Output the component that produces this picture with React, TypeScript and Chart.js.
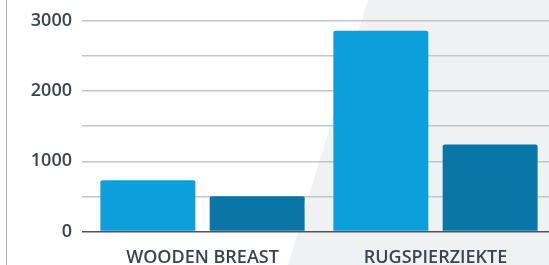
import React, { useEffect, useRef } from "react";
import { Chart, registerables } from "chart.js";

Chart.register(...registerables);

const categories = ["WOODEN BREAST", "RUGSPIERZIEKTE"];
const seriesLight = [730, 2860];
const seriesDark = [500, 1240];
const yMin = 0;
const yMax = 3000;
const yStep = 500;
const labeledTicks = [0, 1000, 2000, 3000];

export default function App() {
  const ref = useRef<HTMLCanvasElement | null>(null);

  useEffect(() => {
    document.body.style.margin = "0";
    const canvas = ref.current;
    if (!canvas) return;
    const chart = new Chart(canvas, {
      type: "bar",
      data: {
        labels: categories,
        datasets: [
          {
            data: seriesLight,
            backgroundColor: "#0c9fdb",
            borderRadius: 2,
            borderSkipped: "bottom",
            categoryPercentage: 0.938,
            barPercentage: 0.869,
          },
          {
            data: seriesDark,
            backgroundColor: "#0877a8",
            borderRadius: 2,
            borderSkipped: "bottom",
            categoryPercentage: 0.938,
            barPercentage: 0.869,
          },
        ],
      },
      options: {
        animation: false,
        responsive: false,
        maintainAspectRatio: false,
        layout: { padding: { top: 21, left: 0, right: 0, bottom: 0 } },
        plugins: {
          legend: { display: false },
          tooltip: { enabled: false },
        },
        scales: {
          x: {
            grid: { display: false },
            border: { display: false },
            ticks: {
              color: "#3a4550",
              padding: 8,
              font: { family: "'Open Sans'", size: 18, weight: 600 },
            },
          },
          y: {
            min: yMin,
            max: yMax,
            border: { display: false },
            afterFit: (s: any) => {
              s.width = 86;
            },
            grid: {
              tickLength: 4,
              lineWidth: 1.5,
              color: (ctx: any) =>
                ctx.tick && ctx.tick.value === 0 ? "#4b5560" : "#c3c6c9",
            },
            ticks: {
              stepSize: yStep,
              padding: 10,
              color: "#3a4550",
              font: { family: "'Open Sans'", size: 18, weight: 600 },
              callback: (v: any) =>
                labeledTicks.includes(Number(v)) ? String(v) : "",
            },
          },
        },
      },
    });
    return () => chart.destroy();
  }, []);

  return (
    <div
      style={{
        position: "fixed",
        left: 0,
        top: 0,
        width: 549,
        height: 265,
        overflow: "hidden",
        background: "#ffffff",
      }}
    >
      <div
        style={{
          position: "absolute",
          inset: 0,
          background: "#f0f1f3",
          clipPath: "polygon(368px 0px, 549px 0px, 549px 265px, 288px 265px)",
        }}
      />
      <div
        style={{
          position: "absolute",
          left: 6,
          top: 0,
          width: 1,
          height: 265,
          background: "#a9adb1",
        }}
      />
      <canvas
        ref={ref}
        width={552}
        height={277}
        style={{ position: "absolute", left: 0, top: 0, width: 552, height: 277 }}
      />
    </div>
  );
}
